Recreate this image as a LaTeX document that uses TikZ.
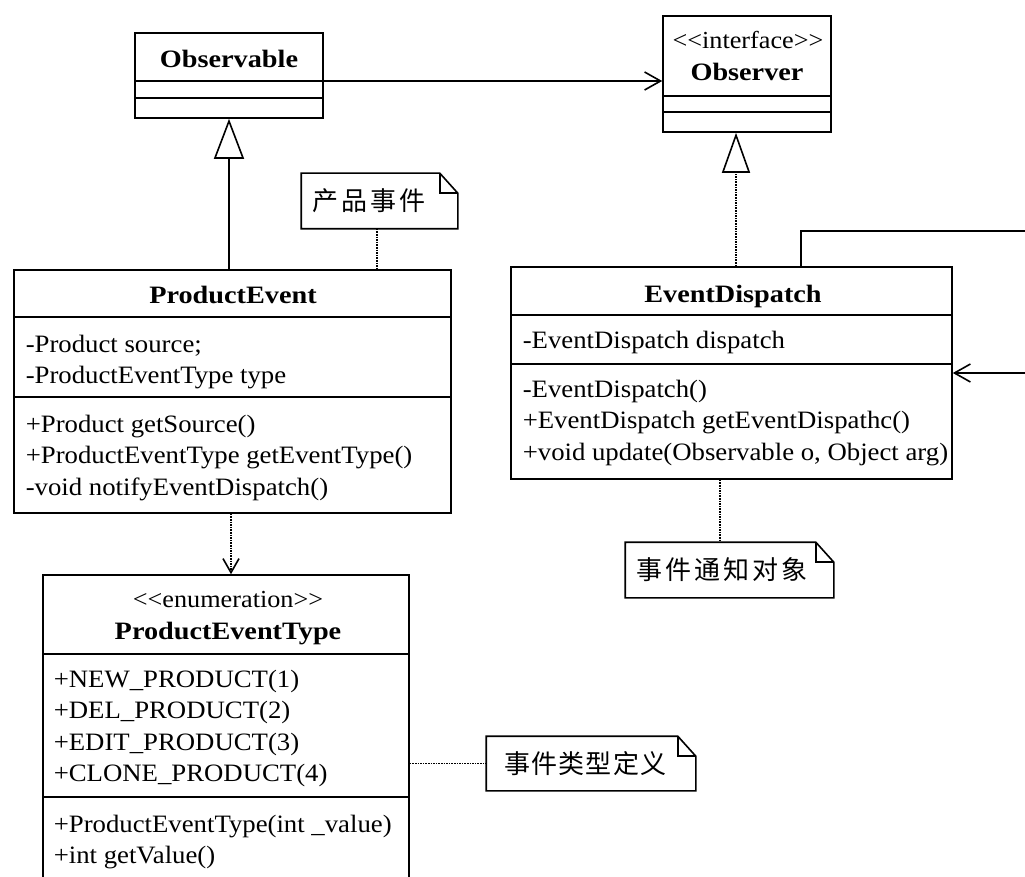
\documentclass[tikz,border=0pt]{standalone}
\usepackage{fontspec}
\setmainfont{Liberation Serif}[FakeStretch=1.07, BoldFeatures={FakeStretch=1.13}]
\newfontfamily\cjkfont{Noto Sans CJK SC}[LetterSpace=12]
\newfontfamily\cjkfontn{Noto Sans CJK SC}[LetterSpace=5]
\usetikzlibrary{arrows.meta,calc}
\newcommand\bodyf{\fontsize{25}{31.5}\selectfont}
\newcommand\stereof{\fontsize{24.5}{28}\selectfont}
\newcommand\titlef{\fontsize{25}{31.5}\selectfont\bfseries}
\newcommand\notef{\cjkfont\fontsize{26}{28}\selectfont}
\newcommand\notefn{\cjkfontn\fontsize{26}{28}\selectfont}
\newcommand\umllines[1]{\begin{tabular}[t]{@{}l@{}}#1\end{tabular}}
\newcommand\notefold[1]{%
  \draw (#1.south west) -- (#1.north west) -- ([xshift=-18pt]#1.north east)
    -- ([yshift=-20pt]#1.north east) -- (#1.south east) -- cycle;
  \draw ([xshift=-18pt]#1.north east) -- ([xshift=-18pt,yshift=-20pt]#1.north east)
    -- ([yshift=-20pt]#1.north east);}
\tikzset{
  box/.style={draw, inner sep=0pt},
  ttl/.style={anchor=base, inner sep=0pt, font=\titlef},
  ster/.style={anchor=base, inner sep=0pt, font=\stereof},
  mem/.style={anchor=base west, inner sep=0pt, font=\bodyf},
  notebox/.style={inner ysep=0pt, inner xsep=10pt, align=left, font=\notef},
  assoc/.style={-{Straight Barb[length=16pt,width=18pt]}},
  gen/.style={-{Triangle[open,length=40pt,width=30pt,fill=white]}},
  real/.style={densely dotted,-{Triangle[open,length=40pt,width=28pt,fill=white]}},
  dep/.style={densely dotted,-{Straight Barb[length=14pt,width=16pt]}},
  notelink/.style={densely dotted},
}
\begin{document}
\begin{tikzpicture}[x=1pt,y=-1pt,line width=1.6pt]
\useasboundingbox (0,0) rectangle (1025,877);
% Observable
\node[box, minimum width=188pt, minimum height=85pt] (obs) at (229,75.5) {};
\node[ttl] (obsT) at (229,68) {Observable};
\draw ([yshift=-49pt]obs.north west) -- ([yshift=-49pt]obs.north east);
\draw ([yshift=-66pt]obs.north west) -- ([yshift=-66pt]obs.north east);
% Observer
\node[box, minimum width=168pt, minimum height=116pt] (obsr) at (747,74) {};
\node[ster] (obsrS) at (748,49) {<{}<interface>{}>};
\node[ttl] (obsrT) at (747,81) {Observer};
\draw ([yshift=-81pt]obsr.north west) -- ([yshift=-81pt]obsr.north east);
\draw ([yshift=-97pt]obsr.north west) -- ([yshift=-97pt]obsr.north east);
% ProductEvent
\node[box, minimum width=437pt, minimum height=243pt] (pe) at (232.5,391.5) {};
\node[ttl] (peT) at (233,303) {ProductEvent};
\draw ([yshift=-48pt]pe.north west) -- ([yshift=-48pt]pe.north east);
\draw ([yshift=-128pt]pe.north west) -- ([yshift=-128pt]pe.north east);
\node[mem] (peA) at (25,352) {\umllines{-Product source;\\-ProductEventType type}};
\node[mem] (peM) at (25,432) {\umllines{+Product getSource()\\+ProductEventType getEventType()\\-void notifyEventDispatch()}};
% EventDispatch
\node[box, minimum width=441pt, minimum height=212pt] (ed) at (731.5,373) {};
\node[ttl] (edT) at (733,302) {EventDispatch};
\draw ([yshift=-49pt]ed.north west) -- ([yshift=-49pt]ed.north east);
\draw ([yshift=-98pt]ed.north west) -- ([yshift=-98pt]ed.north east);
\node[mem] (edA) at (522,348) {\umllines{-EventDispatch dispatch}};
\node[mem] (edM) at (522,397) {\umllines{-EventDispatch()\\+EventDispatch getEventDispathc()\\+void update(Observable o, Object arg)}};
% ProductEventType
\node[box, minimum width=366pt, minimum height=325pt] (pet) at (226,737.5) {};
\node[ster] (petS) at (228,607) {<{}<enumeration>{}>};
\node[ttl] (petT) at (228,639) {ProductEventType};
\draw ([yshift=-80pt]pet.north west) -- ([yshift=-80pt]pet.north east);
\draw ([yshift=-223pt]pet.north west) -- ([yshift=-223pt]pet.north east);
\node[mem] (petA) at (53,687) {\umllines{+NEW\_PRODUCT(1)\\+DEL\_PRODUCT(2)\\+EDIT\_PRODUCT(3)\\+CLONE\_PRODUCT(4)}};
\node[mem] (petM) at (53,832) {\umllines{+ProductEventType(int \_value)\\+int getValue()}};
% Notes
\node[notebox, text width=135pt, minimum height=54pt] (n1) at (379.5,201) {产品事件};
\notefold{n1}
\node[notebox, text width=187pt, minimum height=54pt] (n2) at (729.5,570) {事件通知对象};
\notefold{n2}
\node[notebox, font=\notefn, inner xsep=17pt, text width=174pt, minimum height=53pt] (n3) at (591,763.5) {事件类型定义};
\notefold{n3}
% helper coordinates
\coordinate (ay) at (0,81);
\coordinate (rx) at (736,0);
\coordinate (dx) at (231,0);
\coordinate (n1x) at (377,0);
\coordinate (n2x) at (720,0);
\coordinate (c1) at (801,231);
\coordinate (c2) at (1045,231);
\coordinate (c3) at (1045,373);
% Connectors
\draw[assoc] (obs.east |- ay) -- (obsr.west |- ay);
\draw[gen] (pe.north -| obs.south) -- (obs.south);
\draw[real] (ed.north -| rx) -- (obsr.south -| rx);
\draw[dep] (pe.south -| dx) -- (pet.north -| dx);
\draw[notelink] (n1.south -| n1x) -- (pe.north -| n1x);
\draw[notelink] (ed.south -| n2x) -- (n2.north -| n2x);
\draw[notelink] (pet.east |- n3.west) -- (n3.west);
\draw[assoc] (ed.north -| c1) -- (c1) -- (c2) -- (c3) -- (ed.east |- c3);
\end{tikzpicture}
\end{document}
